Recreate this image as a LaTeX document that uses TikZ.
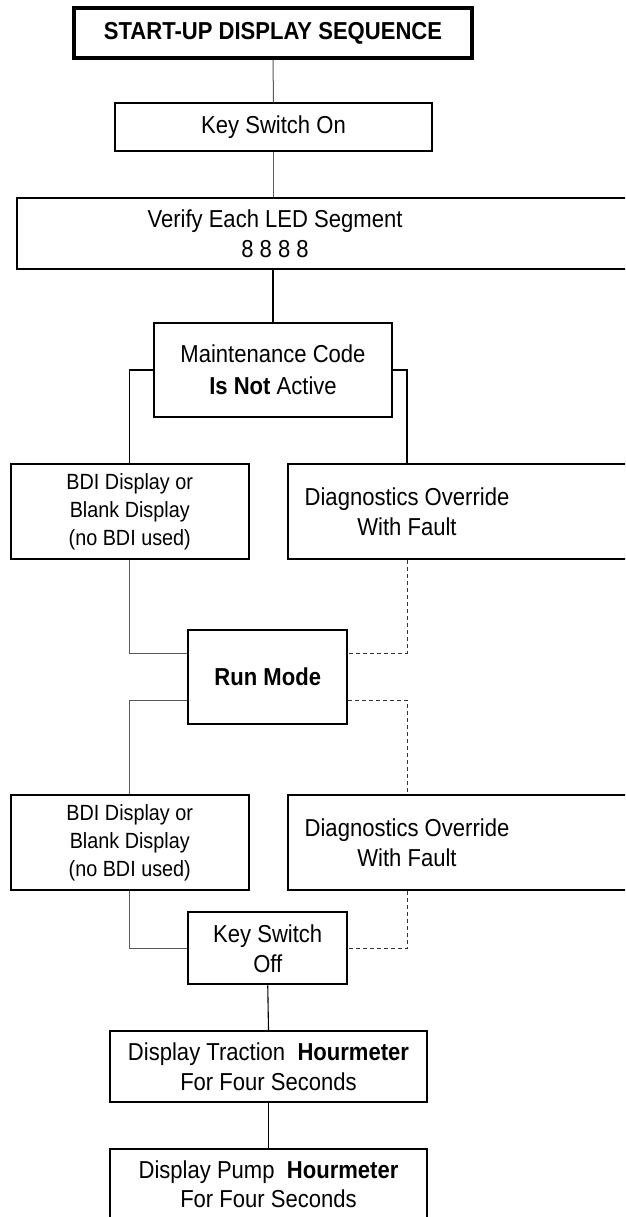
\documentclass[tikz,border=0pt]{standalone}
\usepackage{fontspec}
\setmainfont{Liberation Sans}[FakeStretch=0.9]
\usepackage{tikz}
\newcommand{\bigtxt}{\fontsize{24.5}{30}\selectfont}
\newcommand{\smalltxt}{\fontsize{22}{28}\selectfont}

\begin{document}
\begin{tikzpicture}[x=1pt, y=-1pt,
  box/.style={draw, line width=2pt, inner sep=0pt, align=center, font=\bigtxt},
  txt/.style={inner sep=0pt, align=center, font=\bigtxt},
  thinline/.style={draw=black!65, line width=1pt},
  line/.style={draw=black, line width=1.1pt},
  dashline/.style={draw=black!80, line width=0.9pt, dash pattern=on 4pt off 3pt}]
  \clip (0,0) rectangle (625,1217);
  \useasboundingbox (0,0) rectangle (625,1217);

  % Nodes
  \node[box, line width=3.5pt, minimum width=398, minimum height=50] (title) at (273,33) {\textbf{START-UP DISPLAY SEQUENCE}};
  \node[box, minimum width=317, minimum height=48] (keyon) at (273.5,127.5) {Key Switch On};
  \node[box, anchor=west, minimum width=640, minimum height=71] (verify) at (16,233.5) {};
  \node[txt] (verifytxt) at (275,233.5) {Verify Each LED Segment\\8 8 8 8};
  \node[box, minimum width=238, minimum height=94] (maint) at (273,370) {Maintenance Code\\[2pt]\textbf{Is Not} Active};

  \node[box, font=\smalltxt, minimum width=237.5, minimum height=95] (bdiA) at (129.75,511.5) {BDI Display or\\Blank Display\\(no BDI used)};
  \node[box, anchor=west, minimum width=360, minimum height=95] (diagA) at (287,511.5) {};
  \node[txt] (diagAtxt) at (407,511.5) {Diagnostics Override\\With Fault};

  \node[box, minimum width=159, minimum height=94] (run) at (267.75,677) {\textbf{Run Mode}};

  \node[box, font=\smalltxt, minimum width=237.5, minimum height=95] (bdiB) at (129.75,842.3) {BDI Display or\\Blank Display\\(no BDI used)};
  \node[box, anchor=west, minimum width=360, minimum height=95] (diagB) at (287,842.3) {};
  \node[txt] (diagBtxt) at (407,842.3) {Diagnostics Override\\With Fault};

  \node[box, minimum width=159, minimum height=72] (keyoff) at (267.75,948.3) {Key Switch\\Off};
  \node[box, minimum width=317, minimum height=71] (traction) at (268.5,1066.7) {Display Traction\ \ \textbf{Hourmeter}\\For Four Seconds};
  \node[box, minimum width=317, minimum height=71] (pump) at (268.5,1184.5) {Display Pump\ \ \textbf{Hourmeter}\\[-1pt]For Four Seconds};

  % Connectors
  \draw[thinline] (title.south) -- (keyon.north);
  \draw[thinline] (keyon.south) -- (keyon.south |- verify.north);
  \draw[line] (maint.north |- verify.south) -- (maint.north);
  \draw[line] (maint.west) -| (bdiA.north);
  \draw[line] (maint.east) -| (diagAtxt.north |- diagA.north);

  \draw[thinline] (bdiA.south) |- ([yshift=24pt]run.west);
  \draw[dashline] (diagAtxt.south |- diagA.south) |- ([yshift=24pt]run.east);
  \draw[thinline] ([yshift=-23pt]run.west) -| (bdiB.north);
  \draw[dashline] ([yshift=-23pt]run.east) -| (diagBtxt.north |- diagB.north);

  \draw[thinline] (bdiB.south) |- (keyoff.west);
  \draw[dashline] (diagBtxt.south |- diagB.south) |- (keyoff.east);
  \draw[line] (keyoff.south) -- (traction.north);
  \draw[line] (traction.south) -- (pump.north);

\end{tikzpicture}
\end{document}
